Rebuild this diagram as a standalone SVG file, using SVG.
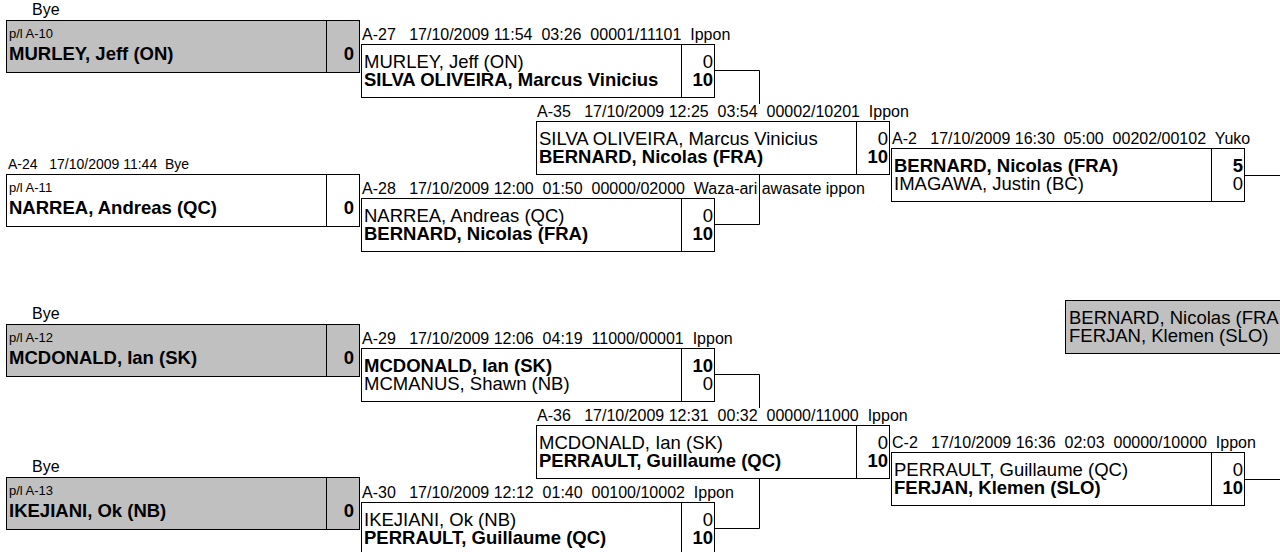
<svg xmlns="http://www.w3.org/2000/svg" width="1280" height="552" viewBox="0 0 1280 552">
<style>
text{font-family:"Liberation Sans",Arial,sans-serif;fill:#000}
.box{fill:#fff;stroke:#000;stroke-width:1}
.bye{fill:#c0c0c0;stroke:#000;stroke-width:1}
.dv{stroke:#000;stroke-width:1}
.hdr{font-size:16px;white-space:pre}
.nm{font-size:18.5px}
.b{font-weight:bold}
.sc{text-anchor:end}
.pl{font-size:13px}
.con{fill:none;stroke:#000;stroke-width:1}
</style>
<rect width="1280" height="552" fill="#fff"/>

<g id="connectors">
<path class="con" d="M714,70.5H759.5V104"/>
<path class="con" d="M714,224.5H759.5V174"/>
<path class="con" d="M1244,175.5H1280"/>
<path class="con" d="M714,374.5H759.5V408"/>
<path class="con" d="M714,528.5H759.5V478"/>
<path class="con" d="M1244,479.5H1280"/>
</g>

<g id="bye-A-10" transform="translate(6,20)">
<text class="hdr" x="26" y="-5">Bye</text>
<rect class="bye" x="0.5" y="0.5" width="353" height="52"/>
<line class="dv" x1="320.5" y1="0.5" x2="320.5" y2="52.5"/>
<text class="pl" x="3" y="18">p/l A-10</text>
<text class="nm b" x="3" y="40">MURLEY, Jeff (ON)</text>
<text class="nm b sc" x="348" y="40">0</text>
</g>

<g id="bye-A-11" transform="translate(6,174)">
<text class="hdr" x="2" y="-5" style="font-size:14px" xml:space="preserve">A-24   17/10/2009 11:44  Bye</text>
<rect class="box" x="0.5" y="0.5" width="353" height="52"/>
<line class="dv" x1="320.5" y1="0.5" x2="320.5" y2="52.5"/>
<text class="pl" x="3" y="18">p/l A-11</text>
<text class="nm b" x="3" y="40">NARREA, Andreas (QC)</text>
<text class="nm b sc" x="348" y="40">0</text>
</g>

<g id="bye-A-12" transform="translate(6,324)">
<text class="hdr" x="26" y="-5">Bye</text>
<rect class="bye" x="0.5" y="0.5" width="353" height="52"/>
<line class="dv" x1="320.5" y1="0.5" x2="320.5" y2="52.5"/>
<text class="pl" x="3" y="18">p/l A-12</text>
<text class="nm b" x="3" y="40">MCDONALD, Ian (SK)</text>
<text class="nm b sc" x="348" y="40">0</text>
</g>

<g id="bye-A-13" transform="translate(6,477)">
<text class="hdr" x="26" y="-5">Bye</text>
<rect class="bye" x="0.5" y="0.5" width="353" height="52"/>
<line class="dv" x1="320.5" y1="0.5" x2="320.5" y2="52.5"/>
<text class="pl" x="3" y="18">p/l A-13</text>
<text class="nm b" x="3" y="40">IKEJIANI, Ok (NB)</text>
<text class="nm b sc" x="348" y="40">0</text>
</g>

<g id="match-A-27" transform="translate(361,44)">
<text class="hdr" x="1" y="-4" xml:space="preserve">A-27   17/10/2009 11:54  03:26  00001/11101  Ippon</text>
<rect class="box" x="0.5" y="0.5" width="353" height="53"/>
<line class="dv" x1="320.5" y1="0.5" x2="320.5" y2="53.5"/>
<text class="nm" x="3" y="24">MURLEY, Jeff (ON)</text>
<text class="nm sc" x="352" y="24">0</text>
<text class="nm b" x="3" y="42">SILVA OLIVEIRA, Marcus Vinicius</text>
<text class="nm b sc" x="352" y="42">10</text>
</g>

<g id="match-A-28" transform="translate(361,198)">
<text class="hdr" x="1" y="-4" xml:space="preserve">A-28   17/10/2009 12:00  01:50  00000/02000  Waza-ari awasate ippon</text>
<rect class="box" x="0.5" y="0.5" width="353" height="53"/>
<line class="dv" x1="320.5" y1="0.5" x2="320.5" y2="53.5"/>
<text class="nm" x="3" y="24">NARREA, Andreas (QC)</text>
<text class="nm sc" x="352" y="24">0</text>
<text class="nm b" x="3" y="42">BERNARD, Nicolas (FRA)</text>
<text class="nm b sc" x="352" y="42">10</text>
</g>

<g id="match-A-35" transform="translate(536,121)">
<text class="hdr" x="1" y="-4" xml:space="preserve">A-35   17/10/2009 12:25  03:54  00002/10201  Ippon</text>
<rect class="box" x="0.5" y="0.5" width="353" height="53"/>
<line class="dv" x1="320.5" y1="0.5" x2="320.5" y2="53.5"/>
<text class="nm" x="3" y="24">SILVA OLIVEIRA, Marcus Vinicius</text>
<text class="nm sc" x="352" y="24">0</text>
<text class="nm b" x="3" y="42">BERNARD, Nicolas (FRA)</text>
<text class="nm b sc" x="352" y="42">10</text>
</g>

<g id="match-A-2" transform="translate(891,148)">
<text class="hdr" x="1" y="-4" xml:space="preserve">A-2   17/10/2009 16:30  05:00  00202/00102  Yuko</text>
<rect class="box" x="0.5" y="0.5" width="353" height="53"/>
<line class="dv" x1="320.5" y1="0.5" x2="320.5" y2="53.5"/>
<text class="nm b" x="3" y="24">BERNARD, Nicolas (FRA)</text>
<text class="nm b sc" x="352" y="24">5</text>
<text class="nm" x="3" y="42">IMAGAWA, Justin (BC)</text>
<text class="nm sc" x="352" y="42">0</text>
</g>

<g id="match-A-29" transform="translate(361,348)">
<text class="hdr" x="1" y="-4" xml:space="preserve">A-29   17/10/2009 12:06  04:19  11000/00001  Ippon</text>
<rect class="box" x="0.5" y="0.5" width="353" height="53"/>
<line class="dv" x1="320.5" y1="0.5" x2="320.5" y2="53.5"/>
<text class="nm b" x="3" y="24">MCDONALD, Ian (SK)</text>
<text class="nm b sc" x="352" y="24">10</text>
<text class="nm" x="3" y="42">MCMANUS, Shawn (NB)</text>
<text class="nm sc" x="352" y="42">0</text>
</g>

<g id="match-A-30" transform="translate(361,502)">
<text class="hdr" x="1" y="-4" xml:space="preserve">A-30   17/10/2009 12:12  01:40  00100/10002  Ippon</text>
<rect class="box" x="0.5" y="0.5" width="353" height="53"/>
<line class="dv" x1="320.5" y1="0.5" x2="320.5" y2="53.5"/>
<text class="nm" x="3" y="24">IKEJIANI, Ok (NB)</text>
<text class="nm sc" x="352" y="24">0</text>
<text class="nm b" x="3" y="42">PERRAULT, Guillaume (QC)</text>
<text class="nm b sc" x="352" y="42">10</text>
</g>

<g id="match-A-36" transform="translate(536,425)">
<text class="hdr" x="1" y="-4" xml:space="preserve">A-36   17/10/2009 12:31  00:32  00000/11000  Ippon</text>
<rect class="box" x="0.5" y="0.5" width="353" height="53"/>
<line class="dv" x1="320.5" y1="0.5" x2="320.5" y2="53.5"/>
<text class="nm" x="3" y="24">MCDONALD, Ian (SK)</text>
<text class="nm sc" x="352" y="24">0</text>
<text class="nm b" x="3" y="42">PERRAULT, Guillaume (QC)</text>
<text class="nm b sc" x="352" y="42">10</text>
</g>

<g id="match-C-2" transform="translate(891,452)">
<text class="hdr" x="1" y="-4" xml:space="preserve">C-2   17/10/2009 16:36  02:03  00000/10000  Ippon</text>
<rect class="box" x="0.5" y="0.5" width="353" height="53"/>
<line class="dv" x1="320.5" y1="0.5" x2="320.5" y2="53.5"/>
<text class="nm" x="3" y="24">PERRAULT, Guillaume (QC)</text>
<text class="nm sc" x="352" y="24">0</text>
<text class="nm b" x="3" y="42">FERJAN, Klemen (SLO)</text>
<text class="nm b sc" x="352" y="42">10</text>
</g>

<g id="final" transform="translate(1065,300)">
<rect class="bye" x="0.5" y="0.5" width="240" height="53"/>
<text class="nm" x="4" y="24">BERNARD, Nicolas (FRA</text>
<text class="nm" x="4" y="42">FERJAN, Klemen (SLO)</text>
</g>
</svg>
